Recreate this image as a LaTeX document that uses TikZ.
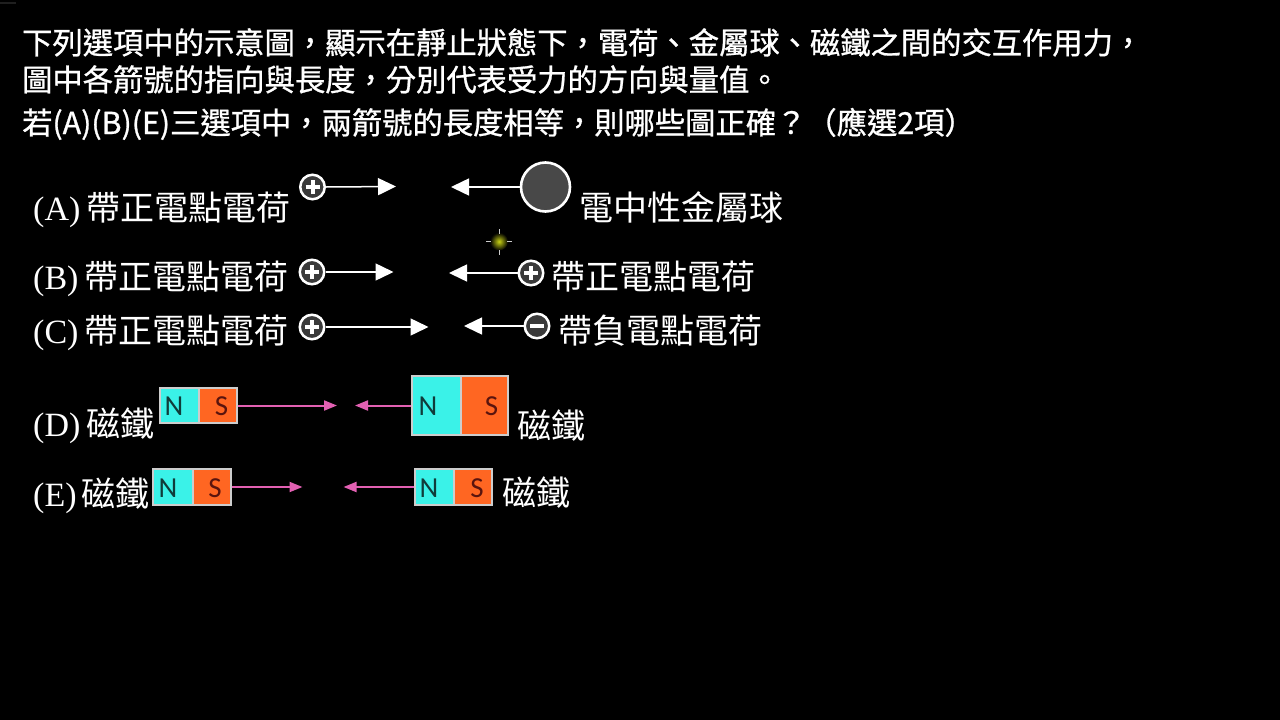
\documentclass[tikz,border=0pt]{standalone}
\usepackage{fontspec}
\setmainfont{Liberation Serif}
\newfontfamily\cjkfont{Noto Sans CJK TC}
\newfontfamily\cjktitle[FakeBold=0.9]{Noto Sans CJK TC}
\newfontfamily\serfont{Liberation Serif}
\newfontfamily\magfont{Carlito}
\usetikzlibrary{arrows.meta}
\definecolor{mcyan}{RGB}{58,242,232}
\definecolor{morange}{RGB}{255,102,34}
\definecolor{mborder}{RGB}{205,205,205}
\definecolor{mpink}{RGB}{226,96,178}
\definecolor{chgfill}{RGB}{58,58,58}
\definecolor{ballfill}{RGB}{72,72,72}
\definecolor{nletter}{RGB}{16,60,58}
\definecolor{sletter}{RGB}{90,20,14}
\definecolor{cursorc}{RGB}{200,210,20}
\begin{document}
\begin{tikzpicture}[x=1pt,y=-1pt,
  titletext/.style={anchor=base west, inner sep=0pt, text=white, font=\cjktitle\fontsize{30.3}{36}\selectfont},
  labtext/.style={anchor=base west, inner sep=0pt, text=white, font=\cjkfont\fontsize{34}{40}\selectfont},
  chg/.style={circle, draw=white, line width=2.5pt, fill=chgfill, minimum size=24.5pt, inner sep=0pt},
  pluschg/.style={chg, path picture={\draw[white, line width=4pt]
      ([xshift=-7pt]path picture bounding box.center) -- ([xshift=7pt]path picture bounding box.center)
      ([yshift=-7pt]path picture bounding box.center) -- ([yshift=7pt]path picture bounding box.center);}},
  minuschg/.style={chg, path picture={\draw[white, line width=4pt]
      ([xshift=-7pt]path picture bounding box.center) -- ([xshift=7pt]path picture bounding box.center);}},
  ball/.style={circle, draw=white, line width=2.6pt, fill=ballfill, minimum size=49pt, inner sep=0pt},
  warrow/.style={draw=white, line width=1.5pt, -{Triangle[length=18pt,width=17pt]}},
  parrow/.style={draw=mpink, line width=2pt, -{Triangle[length=13pt,width=10pt]}},
  magpart/.style={rectangle, draw=mborder, line width=1.2pt, inner sep=0pt},
  letter/.style={inner sep=0pt, font=\magfont\fontsize{29}{32}\selectfont}
]
\useasboundingbox[fill=black] (0,0) rectangle (1280,720);
\fill[black!88!white] (0,1.5) rectangle (16,3.5);

% title
\node[titletext] (t1) at (22,54) {下列選項中的示意圖，顯示在靜止狀態下，電荷、金屬球、磁鐵之間的交互作用力，};
\node[titletext] (t2) at (22,91) {圖中各箭號的指向與長度，分別代表受力的方向與量值。};
\node[titletext] (t3) at (22,134) {若(A)(B)(E)三選項中，兩箭號的長度相等，則哪些圖正確？（應選2項）};

% row A
\node[labtext] (lA) at (33,220) {{\serfont (A)}\kern6pt 帶正電點電荷};
\node[pluschg] (pA) at (312.5,187) {};
\coordinate (tA) at (396,186.5);
\draw[warrow] (pA.east) -- (tA);
\node[ball] (bA) at (545.5,187) {};
\coordinate (uA) at (451,187);
\draw[warrow] (bA.west) -- (uA);
\node[labtext] (rA) at (579,220) {電中性金屬球};

% cursor highlight
\coordinate (cur) at (499,241.5);
\shade[inner color=cursorc, outer color=black] (cur) circle (9);
\draw[black!20!white, line width=1pt] ([xshift=-13pt]cur) -- ([xshift=-8pt]cur) ([xshift=8pt]cur) -- ([xshift=13pt]cur)
  ([yshift=-13pt]cur) -- ([yshift=-8pt]cur) ([yshift=8pt]cur) -- ([yshift=13pt]cur);

% row B
\node[labtext] (lB) at (33,289) {{\serfont (B)}\kern6pt 帶正電點電荷};
\node[pluschg] (pB) at (312,272) {};
\coordinate (tB) at (393.5,272);
\draw[warrow] (pB.east) -- (tB);
\node[pluschg] (qB) at (531,273) {};
\coordinate (uB) at (449,273);
\draw[warrow] (qB.west) -- (uB);
\node[labtext] (rB) at (551,289) {帶正電點電荷};

% row C
\node[labtext] (lC) at (33,343) {{\serfont (C)}\kern6pt 帶正電點電荷};
\node[pluschg] (pC) at (312,327) {};
\coordinate (tC) at (428.5,327);
\draw[warrow] (pC.east) -- (tC);
\node[minuschg] (qC) at (537,326) {};
\coordinate (uC) at (464,326);
\draw[warrow] (qC.west) -- (uC);
\node[labtext] (rC) at (558,343) {帶負電點電荷};

% row D
\node[labtext] (lD) at (33,436) {{\serfont (D)}\kern6pt 磁鐵};
\node[magpart, fill=mcyan, minimum width=39pt, minimum height=35pt] (dN) at (179.5,405.5) {};
\node[magpart, fill=morange, minimum width=38pt, minimum height=35pt] (dS) at (218,405.5) {};
\node[letter, text=nletter] (dNl) at (174,406.5) {N};
\node[letter, text=sletter] (dSl) at (221.5,406.5) {S};
\coordinate (dT) at (337,405.5);
\draw[parrow] (dS.east) -- (dT);
\node[magpart, fill=mcyan, minimum width=49pt, minimum height=59pt] (bN) at (436.5,405.5) {};
\node[magpart, fill=morange, minimum width=47pt, minimum height=59pt] (bS) at (484.5,405.5) {};
\node[letter, text=nletter] (bNl) at (428,406.5) {N};
\node[letter, text=sletter] (bSl) at (491.5,406.5) {S};
\coordinate (dU) at (355,405.5);
\draw[parrow] (bN.west) -- (dU);
\node[labtext] (rD) at (517,438) {磁鐵};

% row E
\node[labtext] (lE) at (33,506) {{\serfont (E)}\kern5pt 磁鐵};
\node[magpart, fill=mcyan, minimum width=40pt, minimum height=36pt] (eN) at (173,487) {};
\node[magpart, fill=morange, minimum width=38pt, minimum height=36pt] (eS) at (212,487) {};
\node[letter, text=nletter] (eNl) at (168,488) {N};
\node[letter, text=sletter] (eSl) at (215,488) {S};
\coordinate (eT) at (302.5,487);
\draw[parrow] (eS.east) -- (eT);
\node[magpart, fill=mcyan, minimum width=39pt, minimum height=36pt] (fN) at (434.5,487) {};
\node[magpart, fill=morange, minimum width=38pt, minimum height=36pt] (fS) at (473,487) {};
\node[letter, text=nletter] (fNl) at (429,488) {N};
\node[letter, text=sletter] (fSl) at (477,488) {S};
\coordinate (eU) at (343.5,487);
\draw[parrow] (fN.west) -- (eU);
\node[labtext] (rE) at (502,505) {磁鐵};
\end{tikzpicture}
\end{document}
